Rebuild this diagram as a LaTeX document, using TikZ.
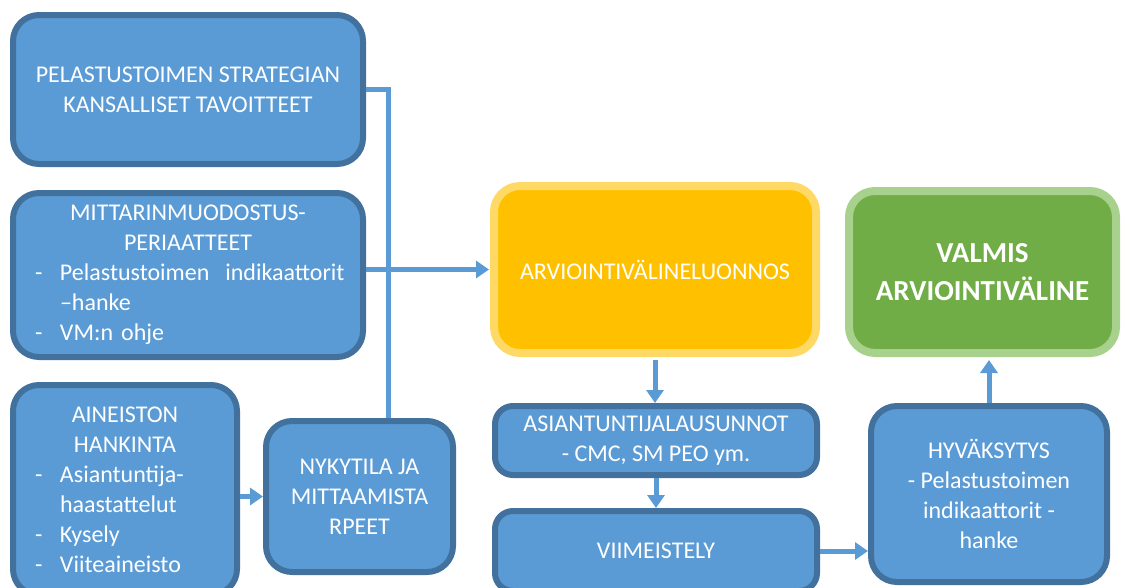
\documentclass[tikz,border=0pt]{standalone}
\usepackage{fontspec}
\setmainfont{Carlito}
\usetikzlibrary{arrows.meta}
\definecolor{boxblue}{HTML}{5B9BD5}
\definecolor{boxedge}{HTML}{41719C}
\definecolor{draftfill}{HTML}{FFC000}
\definecolor{draftedge}{HTML}{FFD966}
\definecolor{donefill}{HTML}{70AD47}
\definecolor{doneedge}{HTML}{A9D18E}
\newcommand\dashitem[2][14pt]{\hspace*{#1}\makebox[25pt][l]{-}#2}
\newcommand\contitem[2][14pt]{\hspace*{#1}\hspace*{25pt}#2}

\begin{document}
\begin{tikzpicture}[x=1pt,y=-1pt,
    bluebox/.style={draw=boxedge, fill=boxblue, line width=6pt, rounded corners=26pt,
        text=white, inner sep=0pt, align=center, font=\fontsize{24}{30}\selectfont},
    draftbox/.style={draw=draftedge, fill=draftfill, line width=8pt, rounded corners=26pt,
        text=white, inner sep=0pt, align=center, font=\fontsize{24}{30}\selectfont},
    donebox/.style={draw=doneedge, fill=donefill, line width=8pt, rounded corners=26pt,
        text=white, inner sep=0pt, align=center, font=\fontsize{29}{38}\selectfont\bfseries},
    link/.style={draw=boxblue, line width=5pt, -{Triangle[length=13pt,width=17pt]}},
    plainlink/.style={draw=boxblue, line width=5pt}]
    \useasboundingbox (0,0) rectangle (1122,587);
    \clip (0,0) rectangle (1122,587);

    \node[bluebox, minimum width=350pt, minimum height=149pt] (goals) at (188,89.5)
        {PELASTUSTOIMEN STRATEGIAN\\KANSALLISET TAVOITTEET};
    \node[bluebox, minimum width=350pt, minimum height=164pt, text width=334pt, align=left] (rules) at (188,275)
        {\centering MITTARINMUODOSTUS-\\PERIAATTEET\par\raggedright
         \dashitem{Pelastustoimen\hspace{8pt} indikaattorit}\\
         \contitem{--hanke}\\
         \dashitem{VM:n ohje}\par};
    \node[bluebox, minimum width=224pt, minimum height=210pt, text width=208pt, align=left] (data) at (125,490)
        {\centering AINEISTON\\HANKINTA\par\raggedright
         \dashitem{Asiantuntija-}\\
         \contitem{haastattelut}\\
         \dashitem{Kysely}\\
         \dashitem{Viiteaineisto}\par};
    \node[bluebox, minimum width=187pt, minimum height=151pt] (state) at (359.5,496.5)
        {NYKYTILA JA\\MITTAAMISTA\\RPEET};

    \node[draftbox, minimum width=322pt, minimum height=167pt] (draft) at (655,269.5)
        {ARVIOINTIVÄLINELUONNOS};
    \node[donebox, minimum width=267pt, minimum height=162pt] (final) at (982.5,272)
        {VALMIS\\ARVIOINTIVÄLINE};

    \node[bluebox, minimum width=322pt, minimum height=69pt, rounded corners=18pt] (experts) at (656,440.5)
        {ASIANTUNTIJALAUSUNNOT\\- CMC, SM PEO ym.};
    \node[bluebox, minimum width=322pt, minimum height=80pt, rounded corners=18pt] (finish) at (656,551)
        {VIIMEISTELY};
    \node[bluebox, minimum width=236pt, minimum height=176pt] (approve) at (989,494)
        {HYVÄKSYTYS\\- Pelastustoimen\\indikaattorit -\\hanke};

    \coordinate (bend) at (388,0);
    \draw[plainlink] (goals.east) -| (bend |- state.north);
    \draw[link, shorten >=1pt] (rules.east |- draft.west) -- (draft.west);
    \draw[link] (data.east |- state.west) -- (state.west);
    \draw[link, shorten <=3pt] (draft.south) -- (draft.south |- experts.north);
    \draw[link] (experts.south) -- (finish.north);
    \draw[link] (finish.east) -- (approve.west |- finish.east);
    \draw[link, shorten >=3pt] (approve.north) -- (approve.north |- final.south);
\end{tikzpicture}
\end{document}
